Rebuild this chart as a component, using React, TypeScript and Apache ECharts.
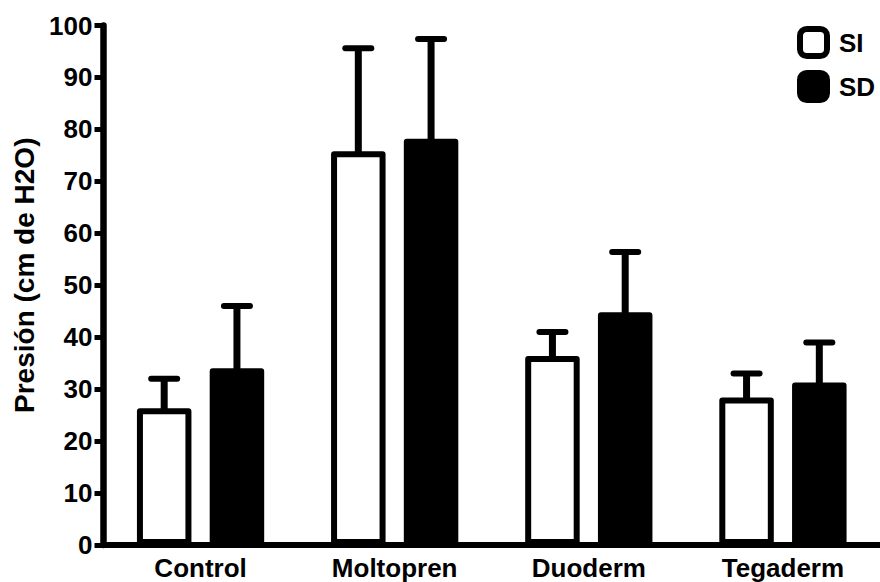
import React, { useEffect, useRef } from "react";
import * as echarts from "echarts";

const categories = ["Control", "Moltopren", "Duoderm", "Tegaderm"];
const siMean = [26.3, 75.8, 36.4, 28.4];
const siErr = [5.7, 19.8, 4.6, 4.6];
const sdMean = [34, 78.2, 44.8, 31.3];
const sdErr = [12, 19.2, 11.6, 7.7];
const seriesNames = ["SI", "SD"];
const yTicks = { min: 0, max: 100, interval: 10 };

const FONT = "'Liberation Sans', Arial, sans-serif";
const BAR_W = 54.5;
const BAR_GAP = 0.335;

export default function App() {
  const ref = useRef<HTMLDivElement>(null);
  useEffect(() => {
    if (!ref.current) return;
    const chart = echarts.init(ref.current, null, { renderer: "svg" });
    const total = BAR_W * 2 + BAR_W * BAR_GAP;
    const offsets = [-total / 2 + BAR_W / 2, total / 2 - BAR_W / 2];
    const errSeries = (means: number[], errs: number[], k: number) => ({
      type: "custom",
      name: seriesNames[k] + "-err",
      z: 1,
      silent: true,
      data: means.map((m, i) => [i, m + errs[i], m]),
      renderItem: (params: any, api: any) => {
        const i = api.value(0);
        const top = api.coord([i, api.value(1)]);
        const base = api.coord([i, api.value(2)]);
        const x = base[0] + offsets[k];
        return {
          type: "group",
          children: [
            {
              type: "line",
              shape: { x1: x, y1: base[1] + 3, x2: x, y2: top[1] },
              style: { stroke: "#000", lineWidth: 7 },
            },
            {
              type: "line",
              shape: { x1: x - 13, y1: top[1], x2: x + 13, y2: top[1] },
              style: { stroke: "#000", lineWidth: 6, lineCap: "round" },
            },
          ],
        };
      },
    });
    chart.setOption({
      animation: false,
      backgroundColor: "#fff",
      textStyle: { fontFamily: FONT },
      grid: { left: 103.5, top: 25.5, width: 779, height: 519.5, containLabel: false },
      legend: {
        orient: "vertical",
        left: 792,
        top: 21,
        itemWidth: 27,
        itemHeight: 27,
        itemGap: 11,
        icon: "roundRect",
        selectedMode: false,
        textStyle: {
          fontFamily: FONT,
          fontSize: 26,
          fontWeight: "bold",
          color: "#000",
          padding: [0, 0, 0, 7],
        },
        data: [
          { name: "SI", itemStyle: { color: "#fff", borderColor: "#000", borderWidth: 6 } },
          { name: "SD", itemStyle: { color: "#000", borderColor: "#000", borderWidth: 6 } },
        ],
      },
      xAxis: {
        type: "category",
        data: categories,
        axisLine: { lineStyle: { color: "#000", width: 6 } },
        axisTick: { show: false },
        axisLabel: {
          color: "#000",
          fontFamily: FONT,
          fontSize: 26,
          fontWeight: "bold",
          margin: 10,
        },
      },
      yAxis: {
        type: "value",
        min: yTicks.min,
        max: yTicks.max,
        interval: yTicks.interval,
        name: "Presión (cm de H2O)",
        nameLocation: "middle",
        nameGap: 61,
        nameTextStyle: {
          color: "#000",
          fontFamily: FONT,
          fontSize: 28,
          fontWeight: "bold",
          padding: [0, 0, 0, 20],
        },
        splitLine: { show: false },
        axisLine: { show: true, lineStyle: { color: "#000", width: 6.5 } },
        axisTick: { show: true, length: 9, lineStyle: { color: "#000", width: 5 } },
        axisLabel: {
          color: "#000",
          fontFamily: FONT,
          fontSize: 26,
          fontWeight: "bold",
          margin: 11,
        },
      },
      series: [
        {
          type: "bar",
          name: "SI",
          z: 3,
          data: siMean,
          barWidth: BAR_W,
          barGap: BAR_GAP * 100 + "%",
          itemStyle: { color: "#fff", borderColor: "#000", borderWidth: 6, borderJoin: "round" },
        },
        {
          type: "bar",
          name: "SD",
          z: 3,
          data: sdMean,
          barWidth: BAR_W,
          barGap: BAR_GAP * 100 + "%",
          itemStyle: { color: "#000", borderColor: "#000", borderWidth: 6, borderJoin: "round" },
        },
        errSeries(siMean, siErr, 0),
        errSeries(sdMean, sdErr, 1),
      ],
    });
    return () => chart.dispose();
  }, []);
  return (
    <div
      ref={ref}
      style={{ position: "fixed", left: 0, top: 0, width: 880, height: 582 }}
    />
  );
}
